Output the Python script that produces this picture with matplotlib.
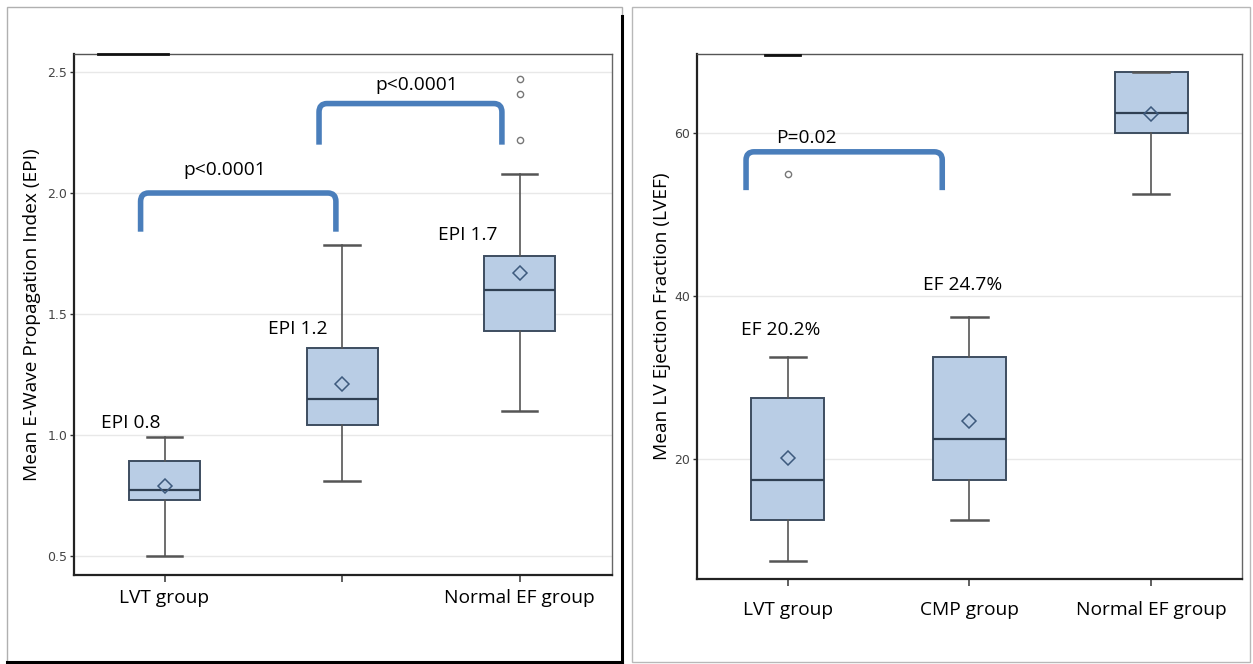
import matplotlib.pyplot as plt
from matplotlib.patches import Rectangle, PathPatch
from matplotlib.lines import Line2D
from matplotlib.path import Path

# ---- data: left panel (EPI) ----
epi_groups = ["LVT group", "", "Normal EF group"]
epi_whislo = [0.50, 0.81, 1.10]
epi_q1 = [0.73, 1.04, 1.43]
epi_med = [0.77, 1.15, 1.60]
epi_q3 = [0.89, 1.36, 1.74]
epi_whishi = [0.99, 1.785, 2.08]
epi_mean = [0.79, 1.21, 1.67]
epi_fliers = [[], [], [2.47, 2.41, 2.22]]
epi_notes = ["EPI 0.8", "EPI 1.2", "EPI 1.7"]

# ---- data: right panel (LVEF) ----
ef_groups = ["LVT group", "CMP group", "Normal EF group"]
ef_whislo = [7.5, 12.5, 52.5]
ef_q1 = [12.5, 17.5, 60.0]
ef_med = [17.5, 22.5, 62.5]
ef_q3 = [27.5, 32.5, 67.5]
ef_whishi = [32.5, 37.5, 67.5]
ef_mean = [20.2, 24.7, 62.4]
ef_fliers = [[55.0], [], []]
ef_notes = ["EF 20.2%", "EF 24.7%"]

plt.rcParams['font.family'] = ['Open Sans', 'DejaVu Sans']
FS = 13.8
TICKFONT = ['Liberation Sans Narrow', 'DejaVu Sans']

BOX_FC = "#b9cde5"
BOX_EC = "#3d4d60"
BRACKET = "#4a7ebb"

fig = plt.figure(figsize=(12.53, 6.64), dpi=100)

# panel frames
fig.add_artist(Rectangle((7/1253, 1-662/664), 615/1253, 655/664, transform=fig.transFigure,
                         fill=False, ec="#b0b0b0", lw=1))
fig.add_artist(Line2D([622/1253, 622/1253], [1-662/664, 1-16/664], transform=fig.transFigure,
                      color="black", lw=2.2))
fig.add_artist(Line2D([7/1253, 622/1253], [1-662/664, 1-662/664], transform=fig.transFigure,
                      color="black", lw=2.2))
fig.add_artist(Rectangle((632/1253, 1-662/664), 618/1253, 655/664, transform=fig.transFigure,
                         fill=False, ec="#b8b8b8", lw=1))
# small dark marks on top spines (scan artefacts)
fig.add_artist(Line2D([98/1253, 168/1253], [1-54/664, 1-54/664], transform=fig.transFigure,
                      color="#111111", lw=2))
fig.add_artist(Line2D([765/1253, 800/1253], [1-55/664, 1-55/664], transform=fig.transFigure,
                      color="#111111", lw=2))


def make_stats(lo, q1, med, q3, hi, mean, fl):
    return [dict(whislo=lo[i], q1=q1[i], med=med[i], q3=q3[i], whishi=hi[i],
                 mean=mean[i], fliers=fl[i]) for i in range(len(lo))]


def draw_panel(ax, stats, labels, xpad):
    ax.bxp(stats, positions=[1, 2, 3], widths=0.4, showmeans=True, patch_artist=True,
           boxprops=dict(facecolor=BOX_FC, edgecolor=BOX_EC, lw=1.4),
           medianprops=dict(color="#2f3f52", lw=1.6),
           whiskerprops=dict(color="#555555", lw=1.2),
           capprops=dict(color="#555555", lw=1.8),
           meanprops=dict(marker="D", markerfacecolor="none", markeredgecolor="#3d5a7d",
                          markersize=7, markeredgewidth=1.1),
           flierprops=dict(marker="o", markerfacecolor="none", markeredgecolor="#777777",
                           markersize=4.5, markeredgewidth=1.0))
    ax.set_xticks([1, 2, 3])
    ax.set_xticklabels(labels, fontsize=FS)
    ax.yaxis.grid(True, color="#e8e8e8", lw=1)
    ax.set_axisbelow(True)
    for s in ["left", "bottom"]:
        ax.spines[s].set_color("#222222")
        ax.spines[s].set_linewidth(1.6)
    ax.spines["top"].set_color("#555555")
    ax.spines["top"].set_linewidth(1.0)
    ax.spines["right"].set_color("#666666")
    ax.spines["right"].set_linewidth(1.0)
    ax.tick_params(axis="y", labelsize=9, labelcolor="#444444", length=3, width=1, color="#333333",
                   pad=2)
    for lab in ax.get_yticklabels():
        lab.set_family(TICKFONT)
    ax.tick_params(axis="x", length=5, width=1.2, color="#444444", pad=xpad)


def bracket(ax, x0, x1, ytop, ybot, rx, ry):
    verts = [(x0, ybot), (x0, ytop - ry), (x0, ytop), (x0 + rx, ytop),
             (x1 - rx, ytop), (x1, ytop), (x1, ytop - ry), (x1, ybot)]
    codes = [Path.MOVETO, Path.LINETO, Path.CURVE3, Path.CURVE3,
             Path.LINETO, Path.CURVE3, Path.CURVE3, Path.LINETO]
    ax.add_patch(PathPatch(Path(verts, codes), fill=False, ec=BRACKET, lw=4,
                           capstyle="butt", joinstyle="round"))


# ---- left panel ----
ax1 = fig.add_axes([74/1253, 1-575/664, 538/1253, 521/664])
draw_panel(ax1, make_stats(epi_whislo, epi_q1, epi_med, epi_q3, epi_whishi, epi_mean, epi_fliers),
           epi_groups, 5)
ax1.set_xlim(0.49, 3.52)
ax1.set_ylim(0.42, 2.575)
ax1.set_yticks([0.5, 1.0, 1.5, 2.0, 2.5])
ax1.set_ylabel("Mean E-Wave Propagation Index (EPI)", fontsize=FS)
ax1.yaxis.set_label_coords(-0.061, 0.5)
ax1.xaxis.get_major_ticks()[1].tick1line.set_color("#888888")
bracket(ax1, 0.865, 1.965, 2.0, 1.84, 0.045, 0.035)
ax1.text(1.34, 2.06, "p<0.0001", fontsize=FS, ha="center", va="bottom")
bracket(ax1, 1.87, 2.90, 2.37, 2.20, 0.045, 0.035)
ax1.text(2.42, 2.41, "p<0.0001", fontsize=FS, ha="center", va="bottom")
note_y1 = [1.01, 1.40, 1.79]
note_x1 = [0.81, 1.75, 2.705]
for i, t in enumerate(epi_notes):
    ax1.text(note_x1[i], note_y1[i], t, fontsize=FS, ha="center", va="bottom")

# ---- right panel ----
ax2 = fig.add_axes([697/1253, 1-579/664, 545/1253, 525/664])
draw_panel(ax2, make_stats(ef_whislo, ef_q1, ef_med, ef_q3, ef_whishi, ef_mean, ef_fliers),
           ef_groups, 11)
ax2.set_xlim(0.5, 3.5)
ax2.set_ylim(5.3, 69.7)
ax2.set_yticks([20, 40, 60])
ax2.set_ylabel("Mean LV Ejection Fraction (LVEF)", fontsize=FS)
ax2.yaxis.set_label_coords(-0.048, 0.5)
bracket(ax2, 0.77, 1.85, 57.7, 53.0, 0.044, 1.0)
ax2.text(1.10, 58.3, "P=0.02", fontsize=FS, ha="center", va="bottom")
note_x2 = [0.96, 1.96]
note_y2 = [34.8, 40.2]
for i, t in enumerate(ef_notes):
    ax2.text(note_x2[i], note_y2[i], t, fontsize=FS, ha="center", va="bottom")

fig.savefig("out.png", dpi=100)
